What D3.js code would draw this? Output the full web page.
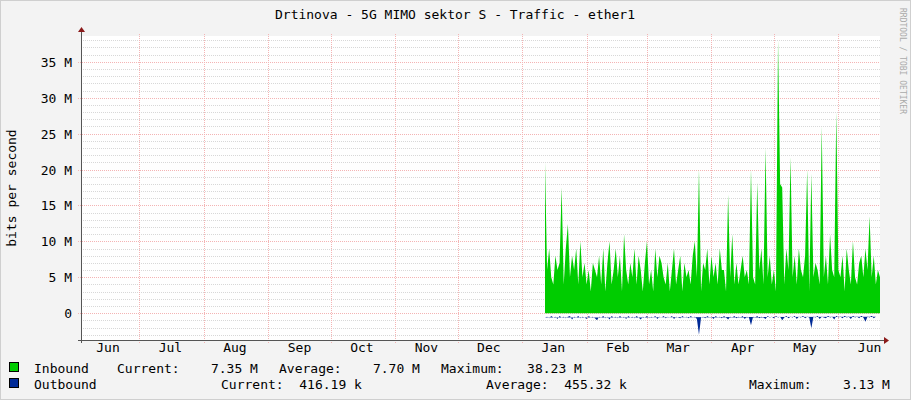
<!DOCTYPE html>
<html><head><meta charset="utf-8">
<script src="https://cdn.jsdelivr.net/npm/d3@7/dist/d3.min.js"></script>
<style>body{margin:0;background:#f3f3f3}text{font-family:"DejaVu Sans Mono",monospace}</style>
</head><body><svg id="c" width="911" height="400"></svg>
<script>
const title = "Drtinova - 5G MIMO sektor S - Traffic - ether1";
const monthLabels = ["Jun","Jul","Aug","Sep","Oct","Nov","Dec","Jan","Feb","Mar","Apr","May","Jun"];
const yTicks = [0,5e6,10e6,15e6,20e6,25e6,30e6,35e6];
const dataStart = "2024-01-12";
// Inbound, M bits/s per day
const inbound = [21,6,9,5,4,8,6,7,17.5,4,9,12.4,5,8,6,9,4,10,5,7,
 4,6,3,7,6,5,8,4,9,3,7,10,4,6,9,5,8,3,11,6,
 4,7,5,9,4,8,6,3,7,10,4,6,3,9,5,8,7,5,4,7,
 3,6,9,4,6,8,3,7,5,6,4,8,10,5,20,3,7,6,9,4,
 8,5,7,4,9,6,6,3,16.5,5,11,4,7,4,6,8,5,6,4,20,
 5,4,18.2,6,9,4,23,5,8,4,6,3,38,18,17.5,4,9,6,21.7,5,
 8,4,9,6,5,8,20,3,19.4,5,7,6,4,26,5,8,4,11,6,5,
 28,6,5,8,3,9,6,4,10,5,4,7,8,5,9,6,13.5,5,8,4,6,5];
// Outbound, M bits/s per day (negative)
const outbound = [-0.6,-0.5,-0.7,-0.4,-0.6,-0.5,-0.8,-0.4,-0.6,-0.5,-0.7,-0.5,-0.4,-0.9,-0.5,-0.6,-0.4,-0.7,-0.5,-0.6,
 -0.8,-0.4,-0.6,-0.5,-0.7,-1.0,-0.5,-0.6,-0.4,-0.7,-0.5,-0.9,-0.4,-0.6,-0.5,-0.7,-0.4,-0.6,-0.5,-0.8,
 -0.4,-0.6,-0.5,-0.7,-0.4,-0.6,-0.9,-0.5,-0.6,-0.4,-0.7,-0.5,-0.6,-0.4,-0.8,-0.5,-0.6,-0.4,-0.7,-0.5,
 -0.6,-0.4,-0.8,-0.5,-0.6,-0.7,-0.4,-0.6,-0.5,-0.7,-0.4,-0.6,-0.5,-0.8,-3.0,-0.6,-0.5,-0.7,-0.4,-0.6,
 -0.5,-0.8,-0.4,-0.6,-0.5,-0.7,-0.4,-0.6,-0.9,-0.5,-0.6,-0.4,-0.7,-0.5,-0.6,-0.4,-0.8,-0.5,-0.6,-1.7,
 -0.5,-0.6,-0.4,-0.7,-0.5,-0.6,-0.8,-0.4,-0.6,-0.5,-0.7,-0.4,-0.6,-0.5,-1.0,-0.6,-0.4,-0.7,-0.5,-0.6,
 -0.4,-0.8,-0.5,-0.6,-0.4,-0.7,-0.5,-0.6,-2.1,-0.5,-0.6,-0.4,-0.8,-0.5,-0.6,-0.7,-0.4,-0.6,-0.5,-0.9,
 -0.4,-0.6,-0.5,-0.7,-0.4,-0.6,-0.5,-0.8,-0.4,-0.6,-0.5,-0.7,-0.4,-0.6,-1.2,-0.5,-0.6,-0.4,-0.7,-0.5];
const legend = [
 {name:"Inbound", color:"#00cc00"},
 {name:"Outbound", color:"#002a97"}];

const svg = d3.select("#c");
const L=81,R=880,T=36,B=340, FS=13;
const x = d3.scaleTime().domain([new Date(2023,5,3), new Date(2024,5,21)]).range([L,R]);
const y = d3.scaleLinear().domain([-3.74e6, 38.6e6]).range([B,T]);
svg.append("rect").attr("x",0.5).attr("y",0.5).attr("width",910).attr("height",399).attr("fill","#f3f3f3").attr("stroke","#cfcfcf");
svg.append("rect").attr("x",L).attr("y",T).attr("width",R-L).attr("height",B-T).attr("fill","#fff");
for (let v=-3e6; v<=38e6; v+=1e6){ if (v%5e6===0) continue;
 svg.append("line").attr("x1",L).attr("x2",R).attr("y1",Math.round(y(v))+0.5).attr("y2",Math.round(y(v))+0.5)
 .attr("stroke","#d8d8d8").attr("stroke-dasharray","1,1");}
yTicks.forEach(v=>{ const yy=Math.round(y(v))+0.5;
 svg.append("line").attr("x1",L-3).attr("x2",R).attr("y1",yy).attr("y2",yy).attr("stroke","#f4b4b4").attr("stroke-dasharray","1,1");
 svg.append("text").attr("x",72).attr("y",yy+4).attr("text-anchor","end").attr("font-size",FS).attr("fill","#000")
  .text(v===0?"0":(v/1e6)+" M");});
d3.timeMonth.range(new Date(2023,6,1), new Date(2024,5,21)).forEach(m=>{ const xx=Math.round(x(m))+0.5;
 svg.append("line").attr("x1",xx).attr("x2",xx).attr("y1",T-2).attr("y2",B+3).attr("stroke","#f4b4b4").attr("stroke-dasharray","1,1");});
d3.timeMonth.range(new Date(2023,5,1), new Date(2024,5,21)).forEach((m,i)=>{
 const mid=d3.timeDay.offset(m,15); let xx=x(mid); if(i===12) xx=Math.min(xx,871);
 svg.append("text").attr("x",xx).attr("y",352).attr("text-anchor","middle").attr("font-size",FS).text(monthLabels[i]);});
const t0 = new Date(dataStart+"T00:00");
const pts = inbound.map((v,i)=>({d:d3.timeDay.offset(t0,i), v:v*1e6, o:outbound[i]*1e6}));
svg.append("path").datum(pts).attr("fill","#00cc00")
 .attr("d",d3.area().x(d=>x(d.d)).y0(y(0)).y1(d=>y(d.v)));
svg.append("path").datum(pts).attr("fill","#002a97")
 .attr("d",d3.area().x(d=>x(d.d)).y0(y(0)).y1(d=>y(d.o)));
svg.append("line").attr("x1",L-3).attr("x2",R+4).attr("y1",B+0.5).attr("y2",B+0.5).attr("stroke","#555");
svg.append("line").attr("x1",L+0.5).attr("x2",L+0.5).attr("y1",T-4).attr("y2",B+3).attr("stroke","#555");
svg.append("path").attr("d",`M${R+4},${B-3}L${R+9},${B+0.5}L${R+4},${B+4}Z`).attr("fill","#8b1a1a");
svg.append("path").attr("d",`M${L-3},${T-4}L${L+0.5},${T-9}L${L+4},${T-4}Z`).attr("fill","#8b1a1a");
svg.append("text").attr("x",455).attr("y",19).attr("text-anchor","middle").attr("font-size",FS).text(title);
svg.append("text").attr("transform","translate(16,188) rotate(-90)").attr("text-anchor","middle").attr("font-size",FS).text("bits per second");
svg.append("text").attr("transform","translate(900,8) rotate(90)").attr("font-size",8).attr("fill","#aaa").text("RRDTOOL / TOBI OETIKER");
const l1=373,l2=389;
legend.forEach((s,i)=>{const yy=i?l2:l1;
 svg.append("rect").attr("x",9.5).attr("y",yy-10.5).attr("width",9).attr("height",9).attr("fill",s.color).attr("stroke","#000");
 svg.append("text").attr("x",34).attr("y",yy).attr("font-size",FS).text(s.name);});
const txt=(xx,yy,t)=>svg.append("text").attr("x",xx).attr("y",yy).attr("font-size",FS).attr("xml:space","preserve").text(t);
txt(117,l1,"Current:    7.35 M");
txt(279,l1,"Average:    7.70 M");
txt(441,l1,"Maximum:   38.23 M");
txt(221,l2,"Current:  416.19 k");
txt(486,l2,"Average:  455.32 k");
txt(749,l2,"Maximum:    3.13 M");
</script></body></html>
